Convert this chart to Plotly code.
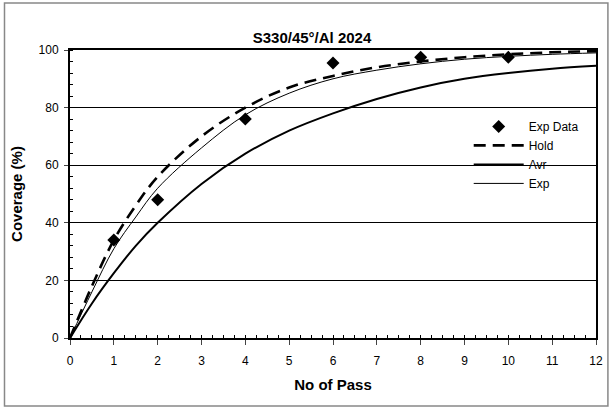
import plotly.graph_objects as go

# Number of passes and measured coverage
exp_pass = [1, 2, 4, 6, 8, 10]
exp_cov = [34, 48, 76, 95.5, 97.5, 97.5]

# Model curves (coverage % vs number of passes)
curve_pass = [0, 0.5, 1, 1.5, 2, 3, 4, 5, 6, 7, 8, 9, 10, 11, 12]
hold_cov = [0, 18, 34, 46, 56, 70, 80, 87, 91, 94, 96, 97.5, 98.5, 99.2, 99.6]
avr_cov = [0, 12, 22.5, 32, 40, 53.5, 64, 72, 78, 83, 87, 90, 92, 93.5, 94.5]
expm_cov = [0, 16, 31, 42, 52, 66, 77.5, 85, 90, 93, 95.2, 96.8, 97.8, 98.5, 99]

x_ticks = list(range(0, 13))
y_ticks = [0, 20, 40, 60, 80, 100]

FONT = "Liberation Sans, Arial, sans-serif"

fig = go.Figure()
fig.add_trace(go.Scatter(
    x=exp_pass, y=exp_cov, mode="markers", name="Exp Data",
    marker=dict(symbol="diamond", size=10, color="black"),
))
fig.add_trace(go.Scatter(
    x=curve_pass, y=hold_cov, mode="lines", name="Hold", line_shape="spline",
    line=dict(color="black", width=2.6, dash="12px,7px"),
))
fig.add_trace(go.Scatter(
    x=curve_pass, y=avr_cov, mode="lines", name="Avr", line_shape="spline",
    line=dict(color="black", width=2),
))
fig.add_trace(go.Scatter(
    x=curve_pass, y=expm_cov, mode="lines", name="Exp", line_shape="spline",
    line=dict(color="black", width=1),
))

fig.update_layout(
    width=615, height=409,
    margin=dict(l=70, r=15, t=50, b=71),
    paper_bgcolor="white", plot_bgcolor="white",
    font=dict(family=FONT, color="black", size=11),
    title=dict(text="<b>S330/45°/Al 2024</b>", x=312 / 615, xanchor="center",
               y=1 - 38 / 409, yanchor="middle", font=dict(size=15)),
    showlegend=True,
    legend=dict(x=0.758, y=0.785, xanchor="left", yanchor="top",
                bgcolor="rgba(0,0,0,0)", font=dict(size=12),
                tracegroupgap=1, itemwidth=50),
    xaxis=dict(
        range=[0, 12], tickvals=x_ticks, ticks="outside", ticklen=5,
        ticklabelstandoff=6,
        showgrid=False, zeroline=False, showline=True, linecolor="black",
        linewidth=2, mirror=True,
        minor=dict(dtick=0.25, ticks="inside", ticklen=3, tickcolor="black", showgrid=False),
        title=dict(text="<b>No of Pass</b>", font=dict(size=15), standoff=12),
        tickfont=dict(size=12),
    ),
    yaxis=dict(
        range=[0, 100], tickvals=y_ticks, ticks="outside", ticklen=4,
        ticklabelstandoff=3,
        showgrid=True, gridcolor="black", gridwidth=1,
        zeroline=False, showline=True, linecolor="black", linewidth=2, mirror=True,
        minor=dict(dtick=4, ticks="inside", ticklen=3, tickcolor="black", showgrid=False),
        title=dict(text="<b>Coverage (%)</b>", font=dict(size=15), standoff=12),
        tickfont=dict(size=12),
    ),
)

# Outer frame around the whole chart
fig.add_shape(type="rect", xref="paper", yref="paper",
              x0=(4 - 70) / 530, x1=(612 - 70) / 530,
              y0=(338 - 406) / 288, y1=(338 - 3) / 288,
              line=dict(color="#888888", width=1.5), layer="below")

fig.write_html("out.html")
